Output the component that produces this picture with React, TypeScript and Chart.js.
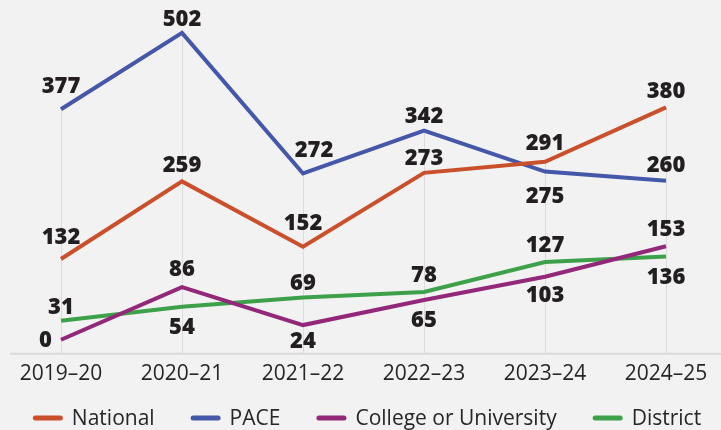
import React, { useEffect, useRef } from "react";
import { Chart, registerables } from "chart.js";

Chart.register(...registerables);

const categories = ["2019–20", "2020–21", "2021–22", "2022–23", "2023–24", "2024–25"];
const seriesNames = ["National", "PACE", "College or University", "District"];
const nationalValues = [132, 259, 152, 273, 291, 380];
const paceValues = [377, 502, 272, 342, 275, 260];
const collegeValues = [0, 86, 24, 65, 103, 153];
const districtValues = [31, 54, 69, 78, 127, 136];

// label offsets (px) from each point: vertical offset of label centre
const nationalDy = [-22, -17, -24, -15, -19, -16.5];
const paceDy = [-24, -14, -23.5, -15, 24, -16];
const collegeDy = [0, -18.5, 15.5, 20, 18, -17];
const districtDy = [-14, 20, -15, -17.5, -17.5, 20.5];
// horizontal offsets; "L" = right-aligned to the left of the point
const nationalDx = [0, 0, 0, 0, 0, 0];
const paceDx = [0, 0, 11, 0, 0, 0];
const collegeDx = ["L", 0, 0, 0, 0, 0];
const districtDx = [0, 0, 0, 0, 0, 0];

const colors = ["#C9502A", "#4557A8", "#93287A", "#3CA149"];
const BG = "#F2F2F2";
const TEXT = "#231F20";
const FONT = "'Open Sans', sans-serif";

const bgPlugin = {
  id: "bg",
  beforeDraw(chart: any) {
    const { ctx, width, height } = chart;
    ctx.save();
    ctx.fillStyle = BG;
    ctx.fillRect(0, 0, width, height);
    ctx.restore();
  },
};

const dropLinesPlugin = {
  id: "dropLines",
  beforeDatasetsDraw(chart: any) {
    const { ctx, chartArea, scales } = chart;
    const x = scales.x;
    const y = scales.y;
    ctx.save();
    ctx.strokeStyle = "#DADADA";
    ctx.lineWidth = 2;
    ctx.beginPath();
    ctx.moveTo(10, chartArea.bottom);
    ctx.lineTo(chart.width, chartArea.bottom);
    ctx.stroke();
    ctx.lineWidth = 1;
    ctx.strokeStyle = "#DCDCDC";
    categories.forEach((_, i) => {
      const maxVal = Math.max(...chart.data.datasets.map((d: any) => d.data[i]));
      const px = Math.round(x.getPixelForValue(i)) + 0.5;
      ctx.beginPath();
      ctx.moveTo(px, y.getPixelForValue(maxVal));
      ctx.lineTo(px, chartArea.bottom);
      ctx.stroke();
    });
    ctx.restore();
  },
};

const labelsPlugin = {
  id: "valueLabels",
  afterDatasetsDraw(chart: any) {
    const { ctx } = chart;
    ctx.save();
    ctx.font = `800 22px ${FONT}`;
    ctx.fillStyle = TEXT;
    ctx.textBaseline = "middle";
    chart.data.datasets.forEach((ds: any, di: number) => {
      const meta = chart.getDatasetMeta(di);
      meta.data.forEach((pt: any, i: number) => {
        const dx = ds.labelDx[i];
        let tx = pt.x;
        if (dx === "L") {
          ctx.textAlign = "right";
          tx -= 9;
        } else {
          ctx.textAlign = "center";
          tx += dx;
        }
        const ty = pt.y + ds.labelDy[i];
        ctx.fillText(String(ds.data[i]), tx, ty + 1);
      });
    });
    ctx.restore();
  },
};

const legendPlugin = {
  id: "customLegend",
  afterDraw(chart: any) {
    const { ctx } = chart;
    ctx.save();
    ctx.font = `21px ${FONT}`;
    const lineW = 30;
    const gap = 9;
    const itemGap = 36;
    const items = chart.data.datasets.map((ds: any) => ({
      label: ds.label,
      color: ds.borderColor,
      w: lineW + gap + ctx.measureText(ds.label).width,
    }));
    const total = items.reduce((s: number, it: any) => s + it.w, 0) + itemGap * (items.length - 1);
    let x = 367 - total / 2;
    const cy = 418;
    items.forEach((it: any) => {
      ctx.strokeStyle = it.color;
      ctx.lineWidth = 5;
      ctx.lineCap = "round";
      ctx.beginPath();
      ctx.moveTo(x + 2.5, cy);
      ctx.lineTo(x + lineW - 2.5, cy);
      ctx.stroke();
      ctx.fillStyle = "#262626";
      ctx.textAlign = "left";
      ctx.textBaseline = "middle";
      ctx.fillText(it.label, x + lineW + gap, cy + 1);
      x += it.w + itemGap;
    });
    ctx.restore();
  },
};

export default function App() {
  const ref = useRef<HTMLCanvasElement>(null);
  useEffect(() => {
    document.body.style.margin = "0";
    document.body.style.background = BG;
    const allValues = [nationalValues, paceValues, collegeValues, districtValues];
    const allDy = [nationalDy, paceDy, collegeDy, districtDy];
    const allDx = [nationalDx, paceDx, collegeDx, districtDx];
    const chart = new Chart(ref.current as HTMLCanvasElement, {
      type: "line",
      data: {
        labels: categories,
        datasets: seriesNames.map((name, i) => ({
          label: name,
          data: allValues[i],
          borderColor: colors[i],
          backgroundColor: colors[i],
          borderWidth: 4,
          pointRadius: 0,
          pointHoverRadius: 0,
          tension: 0,
          labelDy: allDy[i],
          labelDx: allDx[i],
        })) as any,
      },
      options: {
        animation: false,
        responsive: false,
        events: [],
        layout: { padding: { top: 20, left: 61, right: 55, bottom: 43 } },
        plugins: {
          legend: { display: false },
          tooltip: { enabled: false },
        },
        scales: {
          x: {
            offset: false,
            grid: { display: false },
            border: { display: false },
            ticks: {
              color: "#262626",
              font: { family: FONT, size: 21 },
              padding: 0,
              autoSkip: false,
              maxRotation: 0,
            },
          },
          y: {
            display: false,
            min: -23,
            max: 523,
          },
        },
      },
      plugins: [bgPlugin, dropLinesPlugin, labelsPlugin, legendPlugin],
    });
    return () => chart.destroy();
  }, []);
  return <canvas ref={ref} width={721} height={430} style={{ display: "block", width: 721, height: 430 }} />;
}
